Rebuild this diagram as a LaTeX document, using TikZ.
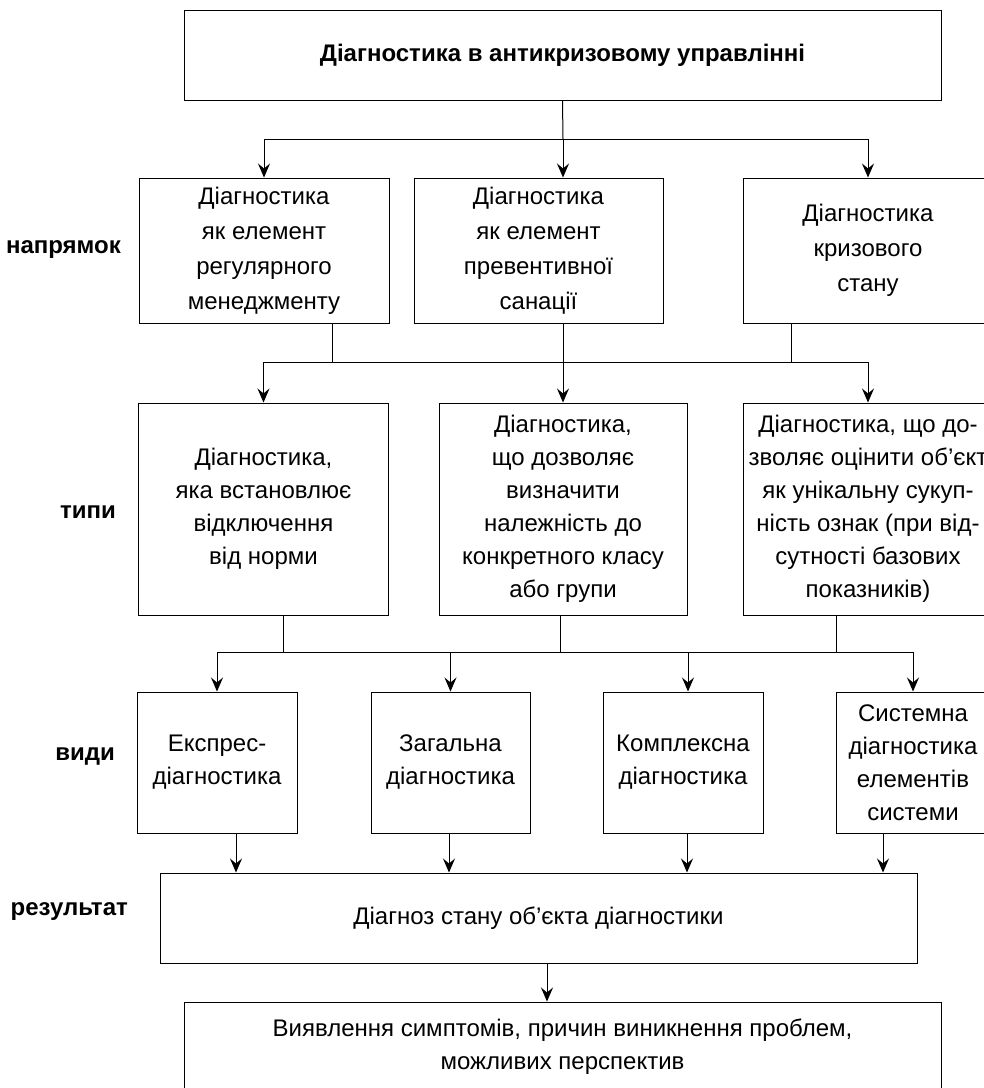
\documentclass[tikz,border=0pt]{standalone}
\usepackage{fontspec}
\setmainfont{Liberation Sans}
\usetikzlibrary{arrows.meta}

\def\boxfont{\fontsize{12}{16.5}\selectfont}
\def\rowdir{250.5}
\def\rowtype{509}
\def\rowkind{762.5}

\begin{document}
\begin{tikzpicture}[x=0.5pt,y=-0.5pt,line width=0.5pt,>={Stealth[length=7pt,width=6pt,inset=2.5pt]}]
    \tikzstyle{box}=[draw,rectangle,align=center,inner sep=0pt,font=\boxfont]
    \tikzstyle{dir box}=[box,minimum width=125pt,minimum height=72.5pt,font=\fontsize{12}{17.5}\selectfont]
    \tikzstyle{type box}=[box,minimum width=125pt,minimum height=106pt]
    \tikzstyle{kind box}=[box,minimum width=79.5pt,minimum height=70.5pt]
    \tikzstyle{annot}=[anchor=east,font=\boxfont\bfseries]

    \useasboundingbox (0,0) rectangle (984,1088);

    % Title
    \node[box,minimum width=378.5pt,minimum height=45pt,font=\boxfont\bfseries] (top) at (562.5,55) {Діагностика в антикризовому управлінні};

    % Draw the directions
    \node[dir box] (D1) at (264,\rowdir) {Діагностика\\як елемент\\регулярного\\менеджменту};
    \node[dir box,minimum width=124.5pt] (D2) at (538.5,\rowdir) {Діагностика\\як елемент\\превентивної\\санації};
    \node[dir box] (D3) at (868,\rowdir) {Діагностика\\кризового\\стану};

    % Draw the types
    \node[type box] (T1) at (263.5,\rowtype) {Діагностика,\\яка встановлює\\відключення\\від норми};
    \node[type box,minimum width=124pt] (T2) at (563,\rowtype) {Діагностика,\\що дозволяє\\визначити\\належність до\\конкретного класу\\або групи};
    \node[type box] (T3) at (868,\rowtype) {Діагностика, що до-\\зволяє оцінити об’єкт\\як унікальну сукуп-\\ність ознак (при від-\\сутності базових\\показників)};

    % Draw the kinds
    \node[kind box,minimum width=80pt] (V1) at (217,\rowkind) {Експрес-\\діагностика};
    \node[kind box] (V2) at (450.5,\rowkind) {Загальна\\діагностика};
    \node[kind box,minimum width=80pt] (V3) at (683,\rowkind) {Комплексна\\діагностика};
    \node[kind box,minimum width=77pt] (V4) at (913,\rowkind) {Системна\\діагностика\\елементів\\системи};

    % Result and outcome
    \node[box,minimum width=378.5pt,minimum height=45pt] (R) at (538.5,918) {Діагноз стану об’єкта діагностики};
    \node[box,minimum width=378.5pt,minimum height=45pt] (B) at (562.5,1047) {Виявлення симптомів, причин виникнення проблем,\\можливих перспектив};

    % Annotate the levels
    \node[annot] (ldir) at (128,250) {напрямок};
    \node[annot] (ltype) at (123,512) {типи};
    \node[annot] (lkind) at (122,757) {види};
    \node[annot] (lres) at (135,912) {результат};

    % Connect the title with the directions
    \coordinate (j1) at (563,139);
    \draw (top.south) -- (j1);
    \draw[->] (j1) -| (D1);
    \draw[->] (j1) -- (j1 |- D2.north);
    \draw[->] (j1) -| (D3);

    % Connect the directions with the types
    \coordinate (j2) at (563,362);
    \draw ([xshift=34pt]D1.south) |- (j2);
    \draw (D2.south -| j2) -- (j2);
    \draw ([xshift=-38.5pt]D3.south) |- (j2);
    \foreach \dest in {T1,T2,T3}
        \draw[->] (j2) -| (\dest);

    % Connect the types with the kinds
    \coordinate (j3) at (560,652);
    \draw ([xshift=9.75pt]T1.south) |- (j3);
    \draw (T2.south -| j3) -- (j3);
    \draw ([xshift=-16pt]T3.south) |- (j3);
    \draw[->] (j3) -| (V1);
    \draw[->] (j3) -| (V2);
    \draw[->] (j3) -| ([xshift=2.5pt]V3.north);
    \draw[->] (j3) -| (V4);

    % Every kind leads to the result
    \foreach \source/\dx in {V1/9.5pt,V2/-0.75pt,V3/2pt,V4/-15pt}
        \draw[->] ([xshift=\dx]\source.south) -- ([xshift=\dx]\source.south |- R.north);

    \draw[->] ([xshift=4.25pt]R.south) -- ([xshift=4.25pt]R.south |- B.north);
\end{tikzpicture}
\end{document}
